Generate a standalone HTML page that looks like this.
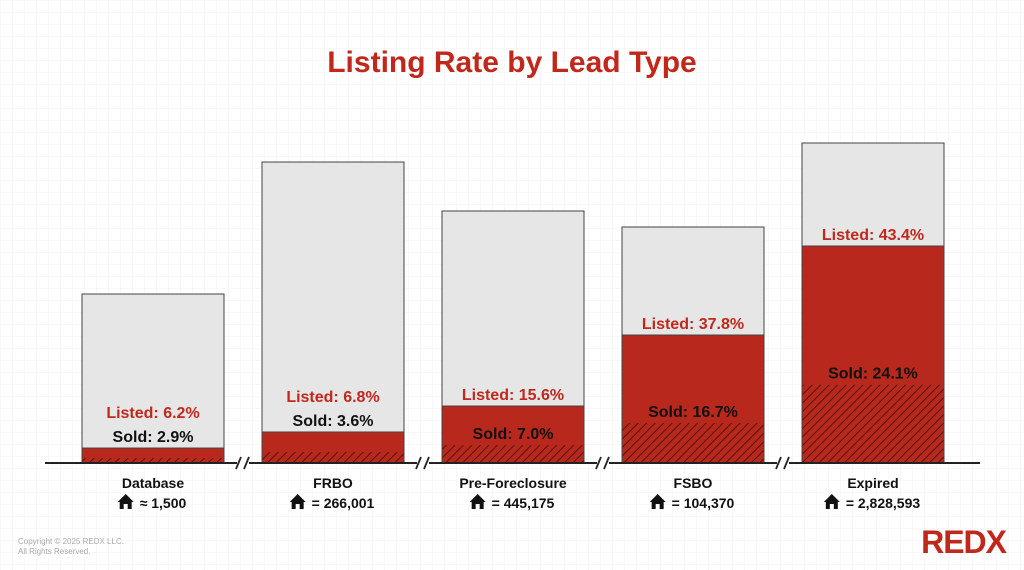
<!DOCTYPE html>
<html><head><meta charset="utf-8">
<style>
body{margin:0;width:1024px;height:570px;overflow:hidden;background:#fff;font-family:"Liberation Sans",sans-serif;}
svg{display:block}
</style></head>
<body>
<svg id="chart" width="1024" height="570" viewBox="0 0 1024 570">
<defs>
<pattern id="grid" width="12" height="12" patternUnits="userSpaceOnUse"><path d="M12 0H0V12" fill="none" stroke="#f2f2f2" stroke-width="1"/></pattern>
<pattern id="hatch" width="6" height="6" patternUnits="userSpaceOnUse" patternTransform="rotate(45)"><rect width="6" height="6" fill="#b8281c"/><line x1="0" y1="0" x2="0" y2="6" stroke="#3a0f0a" stroke-width="1.6"/></pattern>
</defs>
<rect width="1024" height="570" fill="url(#grid)"/>
<text x="512" y="72" text-anchor="middle" font-size="30" font-weight="bold" fill="#c0281c">Listing Rate by Lead Type</text>
<g id="bars"></g>
<line x1="45" y1="463" x2="980" y2="463" stroke="#222" stroke-width="2"/>
<g id="breaks"></g>
<text x="18" y="544" font-size="8" fill="#aaa">Copyright © 2025 REDX LLC.</text>
<text x="18" y="554" font-size="8" fill="#aaa">All Rights Reserved.</text>
<text x="1006" y="553" text-anchor="end" font-size="32" font-weight="bold" fill="#c0281c" letter-spacing="-1">REDX</text>
</svg>
<script>
const categories = ["Database","FRBO","Pre-Foreclosure","FSBO","Expired"];
const counts = ["≈ 1,500","= 266,001","= 445,175","= 104,370","= 2,828,593"];
const barTotals = [169,301,252,236,320];
const listedRates = [6.2,6.8,15.6,37.8,43.4];
const soldRates = [2.9,3.6,7.0,16.7,24.1];
const listedAxisMax = [70,66,69,69.7,64];
const soldAxisMax = 98.5;

const NS="http://www.w3.org/2000/svg";
const baseY=463, barW=142, x0=82, step=180;
const g=document.getElementById('bars');
function mk(tag,attrs,parent){const e=document.createElementNS(NS,tag);for(const k in attrs)e.setAttribute(k,attrs[k]);(parent||g).appendChild(e);return e;}
function yTotal(v){return baseY - v;}
categories.forEach((c,i)=>{
  const x=x0+i*step, cx=x+barW/2;
  const gh=barTotals[i];
  const gray=mk('rect',{x:x,y:yTotal(gh),width:barW,height:gh,fill:'#e6e6e6',stroke:'#444','stroke-width':1});
  
  
  const rh=listedRates[i]/listedAxisMax[i]*gh;
  const red=mk('rect',{x:x,y:baseY-rh,width:barW,height:rh,fill:'#b8281c',stroke:'#444','stroke-width':1});
  
  
  const sh=soldRates[i]/soldAxisMax*gh;
  const hat=mk('rect',{x:x+0.5,y:baseY-sh,width:barW-1,height:sh,fill:'url(#hatch)'});
  
  
  const redTop=baseY-rh, hatTop=baseY-sh;
  let soldY = (hatTop-redTop>=30)? hatTop-6 : redTop-6;
  let listedY = Math.min(redTop-6, soldY-24);
  const lt=mk('text',{x:cx,y:listedY,'text-anchor':'middle','font-size':16,'font-weight':'bold',fill:'#c0281c'});
  lt.textContent='Listed: '+listedRates[i].toFixed(1)+'%';
  
  
  const st=mk('text',{x:cx,y:soldY,'text-anchor':'middle','font-size':16,'font-weight':'bold',fill:'#111'});
  st.textContent='Sold: '+soldRates[i].toFixed(1)+'%';
  
  
  const ct=mk('text',{x:cx,y:488,'text-anchor':'middle','font-size':14,'font-weight':'bold',fill:'#111'});
  ct.textContent=c;
  
  
  const nt=mk('text',{x:cx+10,y:508,'text-anchor':'middle','font-size':14,'font-weight':'bold',fill:'#111'});
  nt.textContent=counts[i];
  
  
  const w=nt.getComputedTextLength();
  const hx=cx+10-w/2-22;
  const house=mk('path',{d:`M${hx} 502 L${hx+8} 494 L${hx+16} 502 L${hx+14} 502 L${hx+14} 509 L${hx+10} 509 L${hx+10} 504 L${hx+6} 504 L${hx+6} 509 L${hx+2} 509 L${hx+2} 502 Z`,fill:'#111'});
  
  
});
const bg=document.getElementById('breaks');
for(let i=0;i<4;i++){
  const bx=243+i*step;
  const r=mk('rect',{x:bx-6,y:456,width:12,height:14,fill:'#fff'},bg);
  
  
  mk('line',{x1:bx-7,y1:469,x2:bx-2,y2:457,stroke:'#222','stroke-width':1.8},bg);
  mk('line',{x1:bx+1,y1:469,x2:bx+6,y2:457,stroke:'#222','stroke-width':1.8},bg);
}
</script>
</body></html>
